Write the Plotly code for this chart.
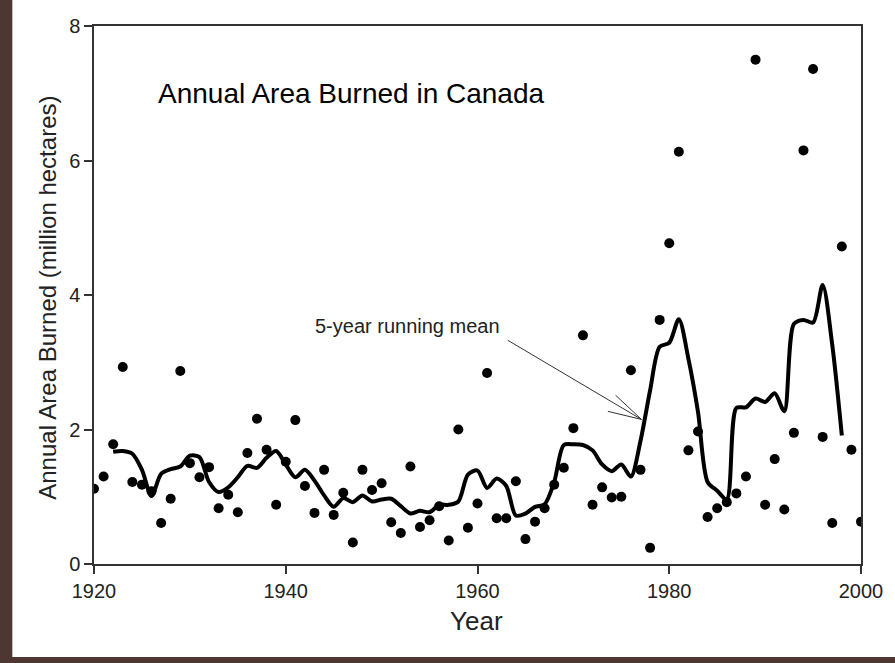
import plotly.graph_objects as go

# annual area burned (million hectares)
years = list(range(1920, 2001))
area_burned = [
    1.12, 1.30, 1.78, 2.93, 1.22, 1.18, 1.08, 0.61, 0.97, 2.87,  # 1920s
    1.50, 1.29, 1.44, 0.83, 1.03, 0.77, 1.65, 2.16, 1.70, 0.88,  # 1930s
    1.52, 2.14, 1.16, 0.76, 1.40, 0.73, 1.06, 0.32, 1.40, 1.10,  # 1940s
    1.20, 0.62, 0.46, 1.45, 0.55, 0.65, 0.86, 0.35, 2.00, 0.54,  # 1950s
    0.90, 2.84, 0.68, 0.68, 1.23, 0.37, 0.63, 0.83, 1.18, 1.43,  # 1960s
    2.02, 3.40, 0.88, 1.14, 0.99, 1.00, 2.88, 1.40, 0.24, 3.63,  # 1970s
    4.77, 6.13, 1.69, 1.97, 0.70, 0.83, 0.92, 1.05, 1.30, 7.50,  # 1980s
    0.88, 1.56, 0.81, 1.95, 6.15, 7.36, 1.89, 0.61, 4.72, 1.70,  # 1990s
    0.63,
]

# 5-year running mean line, 1922-1998
mean_years = list(range(1922, 1999))
running_mean = [
    1.67, 1.68, 1.64, 1.40, 1.01, 1.34, 1.41, 1.45,
    1.61, 1.59, 1.22, 1.07, 1.14, 1.29, 1.46, 1.43, 1.58, 1.68,
    1.48, 1.29, 1.40, 1.24, 1.02, 0.85, 0.98, 0.92, 1.02, 0.93,
    0.96, 0.97, 0.86, 0.75, 0.79, 0.77, 0.88, 0.88, 0.93, 1.33,
    1.39, 1.13, 1.27, 1.16, 0.72, 0.75, 0.85, 0.89, 1.22, 1.77,
    1.78, 1.77, 1.69, 1.48, 1.38, 1.48, 1.30, 1.83, 2.58, 3.23,
    3.29, 3.64, 3.05, 2.26, 1.22, 1.09, 0.96, 2.32, 2.33, 2.46,
    2.41, 2.54, 2.27, 3.57, 3.63, 3.59, 4.15, 3.26, 1.91,
]

FONT = "Liberation Sans, Arial, sans-serif"
BACKDROP = "#4e3632"
W, H = 895, 663
L, R, T, B = 94, 31, 26, 99


def px_to_paper_x(px):
    return (px - L) / (W - L - R)


def px_to_paper_y(py):
    return (H - B - py) / (H - B - T)


fig = go.Figure()

fig.add_trace(go.Scatter(
    x=years, y=area_burned, mode="markers",
    marker=dict(color="black", size=10, symbol="circle"),
    showlegend=False,
))
fig.add_trace(go.Scatter(
    x=mean_years, y=running_mean, mode="lines",
    line=dict(color="black", width=4, shape="spline", smoothing=0.8),
    showlegend=False,
))

axis_common = dict(
    showgrid=False, zeroline=False, showline=True, linecolor="#333333",
    linewidth=1.5, mirror=True, ticks="outside", ticklen=8, tickwidth=1.5,
    tickcolor="#333333", tickfont=dict(family=FONT, size=20, color="#222222"),
)
fig.update_xaxes(range=[1920, 2000], tickvals=[1920, 1940, 1960, 1980, 2000], **axis_common)
fig.update_yaxes(range=[0, 8], tickvals=[0, 2, 4, 6, 8], **axis_common)

# dark photo-like strips round the white panel (left edge and bottom edge)
fig.add_shape(
    type="rect", xref="paper", yref="paper", layer="below",
    x0=px_to_paper_x(-5), x1=px_to_paper_x(12),
    y0=px_to_paper_y(H + 5), y1=px_to_paper_y(-5),
    fillcolor=BACKDROP, line=dict(width=0),
)
fig.add_shape(
    type="rect", xref="paper", yref="paper", layer="below",
    x0=px_to_paper_x(-5), x1=px_to_paper_x(W + 5),
    y0=px_to_paper_y(H + 5), y1=px_to_paper_y(657),
    fillcolor=BACKDROP, line=dict(width=0),
)

# open arrowhead barbs
for bx, by in [(1973.6, 2.27), (1974.4, 2.51)]:
    fig.add_shape(type="line", x0=bx, y0=by, x1=1977.1, y1=2.15,
                  line=dict(color="#333333", width=1))

fig.add_annotation(
    x=1977.1, y=2.15, ax=1963.0, ay=3.34, axref="x", ayref="y",
    text="", showarrow=True, arrowhead=0, arrowwidth=1, arrowcolor="#333333",
)
fig.add_annotation(
    x=1942.8, y=3.54, text="5-year running mean", showarrow=False,
    xanchor="left", yanchor="middle",
    font=dict(family=FONT, size=20, color="#222222"),
)
fig.add_annotation(
    x=px_to_paper_x(352), y=px_to_paper_y(76), xref="paper", yref="paper",
    text="Annual Area Burned in Canada", showarrow=False,
    font=dict(family=FONT, size=28, color="black"),
)
fig.add_annotation(
    x=px_to_paper_x(31), y=px_to_paper_y(298), xref="paper", yref="paper",
    text="Annual Area Burned (million hectares)", showarrow=False, textangle=-90,
    font=dict(family=FONT, size=24, color="#222222"),
)
fig.add_annotation(
    x=px_to_paper_x(478), y=px_to_paper_y(638), xref="paper", yref="paper",
    text="Year", showarrow=False,
    font=dict(family=FONT, size=26, color="#222222"),
)

fig.update_layout(
    width=W, height=H,
    margin=dict(l=L, r=R, t=T, b=B),
    paper_bgcolor="white", plot_bgcolor="white",
)

fig.write_html(
    "out.html",
    config={"displayModeBar": False},
    post_script=(
        "document.body.style.margin = '0';"
        "document.body.style.overflow = 'hidden';"
        "document.documentElement.style.overflow = 'hidden';"
    ),
)
